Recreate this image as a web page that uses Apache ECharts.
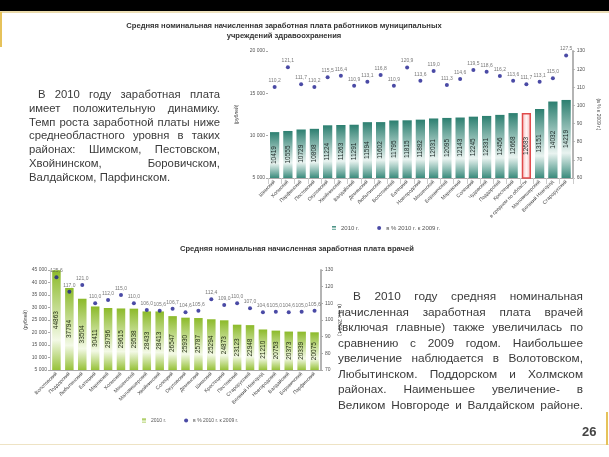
<!DOCTYPE html>
<html><head><meta charset="utf-8">
<script src="https://cdn.jsdelivr.net/npm/echarts@6/dist/echarts.min.js"></script>
<style>
html,body{margin:0;padding:0;background:#fff;width:609px;height:457px;overflow:hidden;font-family:"Liberation Sans",Arial,sans-serif;}
#chart{position:absolute;left:0;top:0;width:609px;height:457px;}
.topbar{position:absolute;left:0;top:0;width:609px;height:11px;background:#000;}
.tline{position:absolute;left:0;top:11px;width:609px;height:2px;background:linear-gradient(90deg,#e9d9a8,#f3ead0 60%,#e9dcb5);}
.gold{position:absolute;left:0;top:12px;width:2px;height:35px;background:#e6c25a;}
.bline{position:absolute;left:0;top:444px;width:609px;height:1px;background:#eee3c4;}
.gold2{position:absolute;left:606px;top:412px;width:2px;height:33px;background:#e6c25a;}
.ttl{position:absolute;font-weight:bold;color:#333;text-align:center;font-size:7.6px;line-height:9.5px;white-space:nowrap;}
.para{position:absolute;color:#3a3a3a;}
.para div{text-align:justify;text-align-last:justify;white-space:nowrap;}
.para div.last{text-align-last:left;}
.pnum{position:absolute;left:582px;top:424px;font-weight:bold;font-size:13px;color:#444;}
</style></head>
<body>
<div class="topbar"></div><div class="tline"></div><div class="gold"></div>
<div class="bline"></div><div class="gold2"></div>
<div id="chart"></div>
<div class="ttl" style="left:124px;top:21px;width:320px;">Средняя номинальная начисленная заработная плата работников муниципальных<br>учреждений здравоохранения</div>
<div class="ttl" style="left:180px;top:244px;width:204px;">Средняя номинальная начисленная заработная плата врачей</div>
<div class="para" style="left:29px;top:88px;width:191px;line-height:13.8px;font-size:11.3px;">
<div style="padding-left:9px">В 2010 году заработная плата</div>
<div>имеет положительную динамику.</div>
<div>Темп роста заработной платы ниже</div>
<div>среднеобластного уровня в таких</div>
<div>районах: Шимском, Пестовском,</div>
<div>Хвойнинском, Боровичском,</div>
<div class="last">Валдайском, Парфинском.</div>
</div>
<div class="para" style="left:338px;top:289px;width:245px;line-height:15.5px;font-size:11.8px;">
<div style="padding-left:15px">В 2010 году средняя номинальная</div>
<div>начисленная заработная плата врачей</div>
<div>(включая главные) также увеличилась по</div>
<div>сравнению с 2009 годом. Наибольшее</div>
<div>увеличение наблюдается в Волотовском,</div>
<div>Любытинском. Поддорском и Холмском</div>
<div>районах. Наименьшее увеличение- в</div>
<div>Великом Новгороде и Валдайском районе.</div>
</div>
<div class="pnum">26</div>
<script>
// ---- data: top chart (медработники) ----
const topCats = ['Шимский','Холмский','Парфинский','Пестовский','Окуловский','Хвойнинский','Валдайский','Демянский','Любытинский','Волотовский','Батецкий','Новгородский','Мошенской','Боровичский','Маревский','Солецкий','Чудовский','Поддорский','Крестецкий','в среднем по области','Маловишерский','Великий Новгород','Старорусский'];
const topWage = [10419,10555,10729,10808,11224,11263,11291,11594,11602,11795,11815,11892,12031,12095,12143,12245,12331,12456,12668,12683,13151,14032,14219];
const topGrowth = [110.2,121.1,111.7,110.2,115.5,116.4,110.9,113.1,116.8,110.9,120.9,113.6,119.0,111.3,114.6,119.5,118.6,116.2,113.6,111.7,113.1,115.0,127.5];
// ---- data: bottom chart (врачи) ----
const botCats = ['Волотовский','Поддорский','Любытинский','Батецкий','Маревский','Холмский','Мошенской','Маловишерский','Хвойнинский','Солецкий','Окуловский','Демянский','Шимский','Крестецкий','Пестовский','Старорусский','Великий Новгород','Новгородский','Валдайский','Боровичский','Парфинский'];
const botWage = [44863,37794,33504,30411,29796,29615,29538,28433,28413,26547,25930,25787,25294,24873,23123,22948,21210,20753,20373,20339,20075];
const botGrowth = [125.6,117.0,121.0,110.0,112.0,115.0,110.0,106.0,105.6,106.7,104.6,105.6,112.4,109.0,110.0,107.0,104.6,105.0,104.6,105.0,105.6];
// ---- legend / axis texts ----
const legendBar = '2010 г.';
const legendDot = 'в % 2010 г. к 2009 г.';
const leftAxisName = '(рублей)';
const rightAxisName = '(в % к 2009 г.)';
const avgName = 'в среднем по области';

const G = echarts.graphic;
const teal = new G.LinearGradient(0,0,0,1,[{offset:0,color:'#2c7f70'},{offset:0.68,color:'#e9f3f0'},{offset:1,color:'#3a8b7c'}]);
const green = new G.LinearGradient(0,0,0,1,[{offset:0,color:'#8cba2a'},{offset:0.7,color:'#f3f9e6'},{offset:1,color:'#97c23a'}]);
const pink = new G.LinearGradient(0,0,1,0,[{offset:0,color:'#f4b8b8'},{offset:0.5,color:'#fff4f4'},{offset:1,color:'#f4b8b8'}]);
const fmtK = v => v.toLocaleString('ru-RU').replace(/\u00a0/g,' ');
const fmtP = v => v.toFixed(1).replace('.', ',');
const small = {fontSize:5, color:'#555', fontFamily:'Liberation Sans'};

const topBarData = topWage.map((v,i)=> topCats[i]===avgName ? {value:v, itemStyle:{color:pink, borderColor:'#e04a4a', borderWidth:1.5}} : v);

const chart = echarts.init(document.getElementById('chart'), null, {renderer:'canvas'});
chart.setOption({
  animation:false,
  grid:[
    {left:268, top:51, width:313, height:127},
    {left:50, top:270, width:271, height:100}
  ],
  legend:[
    {left:327, top:220, itemWidth:4, itemHeight:4, itemGap:18, textStyle:{fontSize:6, color:'#555'},
     data:[{name:legendBar, icon:'rect'},{name:legendDot, icon:'circle'}]},
    {left:137, top:413, itemWidth:4, itemHeight:4, itemGap:18, textStyle:{fontSize:5, color:'#555'},
     data:[{name:legendBar+'\u200b', icon:'rect'},{name:legendDot+'\u200b', icon:'circle'}]}
  ],
  xAxis:[
    {type:'category', gridIndex:0, data:topCats,
     axisLine:{lineStyle:{color:'#aaa'}}, axisTick:{show:true, length:6, lineStyle:{color:'#ccc'}},
     axisLabel:{interval:0, rotate:45, fontSize:5, color:'#444', margin:3}},
    {type:'category', gridIndex:1, data:botCats,
     axisLine:{lineStyle:{color:'#aaa'}}, axisTick:{show:false},
     axisLabel:{interval:0, rotate:45, fontSize:5, color:'#444', margin:3}}
  ],
  yAxis:[
    {type:'value', gridIndex:0, position:'left', min:5000, max:20000, interval:5000,
     splitLine:{show:false}, axisLine:{show:false}, axisTick:{show:true, length:2, lineStyle:{color:'#aaa'}},
     axisLabel:Object.assign({formatter:fmtK, margin:3}, small),
     name:leftAxisName, nameLocation:'middle', nameGap:16, nameRotate:90, nameTextStyle:{fontSize:5, color:'#444'}},
    {type:'value', gridIndex:0, position:'right', min:60, max:130, interval:10,
     splitLine:{show:false}, axisLine:{show:true, lineStyle:{color:'#b4b4b4', width:2}}, axisTick:{show:true, length:2, lineStyle:{color:'#aaa'}},
     axisLabel:Object.assign({margin:4}, small),
     name:rightAxisName, nameLocation:'middle', nameGap:16, nameRotate:-90, nameTextStyle:{fontSize:5, color:'#444'}},
    {type:'value', gridIndex:1, position:'left', min:5000, max:45000, interval:5000,
     splitLine:{show:false}, axisLine:{show:true, lineStyle:{color:'#ccc'}}, axisTick:{show:true, length:2, lineStyle:{color:'#aaa'}},
     axisLabel:Object.assign({formatter:fmtK, margin:3}, small),
     name:leftAxisName, nameLocation:'middle', nameGap:20, nameRotate:90, nameTextStyle:{fontSize:5, color:'#444'}},
    {type:'value', gridIndex:1, position:'right', min:70, max:130, interval:10,
     splitLine:{show:false}, axisLine:{show:true, lineStyle:{color:'#b4b4b4', width:2}}, axisTick:{show:true, length:2, lineStyle:{color:'#aaa'}},
     axisLabel:Object.assign({margin:4}, small),
     name:rightAxisName, nameLocation:'middle', nameGap:12, nameRotate:-90, nameTextStyle:{fontSize:5, color:'#444'}}
  ],
  series:[
    {name:legendBar, type:'bar', xAxisIndex:0, yAxisIndex:0, data:topBarData, barWidth:'70%',
     itemStyle:{color:teal},
     label:{show:true, position:'inside', rotate:90, fontSize:6.5, color:'#1e2a28', formatter:p=>String(p.value)}},
    {name:legendDot, type:'scatter', xAxisIndex:0, yAxisIndex:1, data:topGrowth, symbolSize:4,
     itemStyle:{color:'#1d1d8f'},
     label:{show:true, position:'top', distance:2, fontSize:5, color:'#555', formatter:p=>fmtP(p.value)}},
    {name:legendBar+'\u200b', type:'bar', xAxisIndex:1, yAxisIndex:2, data:botWage, barWidth:'66%',
     itemStyle:{color:green},
     label:{show:true, position:'inside', rotate:90, fontSize:6.5, color:'#1f2a10', formatter:p=>String(p.value)}},
    {name:legendDot+'\u200b', type:'scatter', xAxisIndex:1, yAxisIndex:3, data:botGrowth, symbolSize:4,
     itemStyle:{color:'#1d1d8f'},
     label:{show:true, position:'top', distance:2, fontSize:5, color:'#555', formatter:p=>fmtP(p.value)}}
  ]
});
</script>
</body></html>
